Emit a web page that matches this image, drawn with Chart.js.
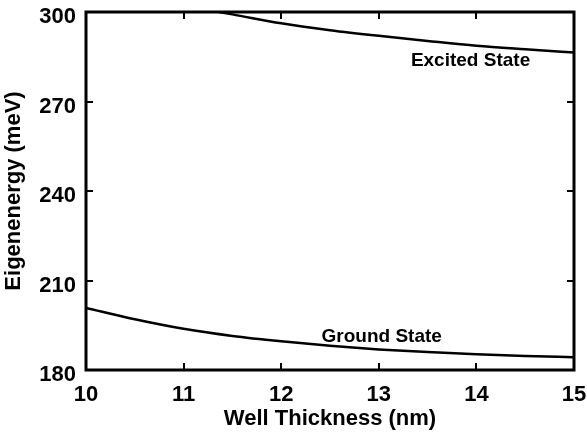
<!DOCTYPE html>
<html>
<head>
<meta charset="utf-8">
<script src="https://cdn.jsdelivr.net/npm/chart.js@4/dist/chart.umd.min.js"></script>
<style>
  html, body { margin: 0; padding: 0; background: #fff; }
  #wrap { width: 587px; height: 434px; position: relative; }
</style>
</head>
<body>
<div id="wrap"><canvas id="c"></canvas></div>
<script>
// ---- data ----
const groundThickness = [10, 10.5, 11, 11.5, 12, 12.5, 13, 13.5, 14, 14.5, 15];
const groundEnergy    = [200.8, 197.0, 193.8, 191.4, 189.6, 188.1, 186.9, 186.0, 185.3, 184.7, 184.3];
const excitedThickness = [11.36, 11.5, 12, 12.5, 13, 13.5, 14, 14.5, 15];
const excitedEnergy    = [300.0, 299.2, 296.2, 293.9, 292.0, 290.3, 288.7, 287.5, 286.4];
const curveLabels = ['Excited State', 'Ground State'];
const labelPositions = [[13.94, 283.6], [13.03, 191.0]]; // data coords (thickness, energy)
const xTitle = 'Well Thickness (nm)';
const yTitle = 'Eigenenergy (meV)';

const FONT = '"Liberation Sans", Arial, Helvetica, sans-serif';

const framePlugin = {
  id: 'frame',
  afterDatasetsDraw(chart) {
    const { ctx, chartArea: a, scales: { x, y } } = chart;
    ctx.save();
    ctx.strokeStyle = '#000';
    ctx.lineWidth = 2;
    const TL = 7;
    const seg = (x1, y1, x2, y2) => { ctx.beginPath(); ctx.moveTo(x1, y1); ctx.lineTo(x2, y2); ctx.stroke(); };
    x.ticks.forEach(t => {
      const px = Math.round(x.getPixelForValue(t.value));
      seg(px, a.bottom, px, a.bottom - TL);
      seg(px, a.top, px, a.top + TL);
    });
    y.ticks.forEach(t => {
      const py = Math.round(y.getPixelForValue(t.value));
      seg(a.left, py, a.left + TL, py);
      seg(a.right, py, a.right - TL, py);
    });
    ctx.lineWidth = 3;
    ctx.strokeRect(a.left, a.top, a.right - a.left, a.bottom - a.top);
    // curve annotations
    ctx.fillStyle = '#000';
    ctx.font = 'bold 19px ' + FONT;
    ctx.textAlign = 'center';
    ctx.textBaseline = 'middle';
    curveLabels.forEach((txt, i) => {
      const [vx, vy] = labelPositions[i];
      ctx.fillText(txt, x.getPixelForValue(vx), y.getPixelForValue(vy));
    });
    ctx.restore();
  }
};

new Chart(document.getElementById('c'), {
  type: 'line',
  data: {
    datasets: [
      {
        label: 'Ground State',
        data: groundThickness.map((t, i) => ({ x: t, y: groundEnergy[i] })),
        borderColor: '#000', borderWidth: 2.5, pointRadius: 0,
        cubicInterpolationMode: 'monotone', fill: false
      },
      {
        label: 'Excited State',
        data: excitedThickness.map((t, i) => ({ x: t, y: excitedEnergy[i] })),
        borderColor: '#000', borderWidth: 2.5, pointRadius: 0,
        cubicInterpolationMode: 'monotone', fill: false
      }
    ]
  },
  options: {
    responsive: true,
    maintainAspectRatio: false,
    animation: false,
    devicePixelRatio: 1,
    layout: { padding: { top: 12, right: 13, left: 0, bottom: 0 } },
    plugins: { legend: { display: false }, tooltip: { enabled: false } },
    scales: {
      x: {
        type: 'linear', min: 10, max: 15,
        afterFit(s) { s.height = 64; s.paddingLeft = 0; s.paddingRight = 0; },
        grid: { display: false, drawTicks: false },
        border: { display: false },
        ticks: { stepSize: 1, padding: 12, color: '#000', font: { family: FONT, size: 22, weight: 'bold' } },
        title: { display: true, text: xTitle, color: '#000', padding: { top: 0, bottom: 2 },
                 font: { family: FONT, size: 22, weight: 'bold' } }
      },
      y: {
        type: 'linear', min: 180, max: 300,
        afterFit(s) { s.width = 86; s.paddingTop = 0; s.paddingBottom = 0; },
        grid: { display: false, drawTicks: false },
        border: { display: false },
        ticks: { stepSize: 30, padding: 10, labelOffset: 5, color: '#000', font: { family: FONT, size: 22, weight: 'bold' } },
        title: { display: true, text: yTitle, color: '#000', padding: { top: 1, bottom: 0 },
                 font: { family: FONT, size: 22, weight: 'bold' } }
      }
    }
  },
  plugins: [framePlugin]
});
</script>
</body>
</html>
